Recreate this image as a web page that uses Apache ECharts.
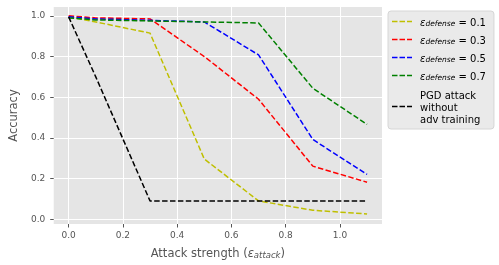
<!DOCTYPE html>
<html>
<head>
<meta charset="utf-8">
<script src="https://cdn.jsdelivr.net/npm/echarts@6/dist/echarts.min.js"></script>
<style>html,body{margin:0;padding:0;background:#fff;}#c{width:499px;height:265px;}</style>
</head>
<body>
<div id="c"></div>
<script>
const attackEps = [0, 0.1, 0.3, 0.5, 0.7, 0.9, 1.1];
const accDef01 = [0.995, 0.97, 0.915, 0.296, 0.09, 0.044, 0.026];
const accDef03 = [1.0, 0.99, 0.985, 0.80, 0.59, 0.261, 0.182];
const accDef05 = [0.995, 0.985, 0.978, 0.97, 0.808, 0.392, 0.22];
const accDef07 = [0.99, 0.98, 0.975, 0.97, 0.965, 0.644, 0.466];
const accNoAdv = [0.995, 0.70, 0.09, 0.09, 0.09, 0.09, 0.09];
const xTicks = [0, 0.2, 0.4, 0.6, 0.8, 1.0];
const yTicks = [0, 0.2, 0.4, 0.6, 0.8, 1.0];
const seriesNames = ['def0.1', 'def0.3', 'def0.5', 'def0.7', 'pgd'];
const legendTexts = {
  'def0.1': '{e|ε}{s|defense}{t| = 0.1}',
  'def0.3': '{e|ε}{s|defense}{t| = 0.3}',
  'def0.5': '{e|ε}{s|defense}{t| = 0.5}',
  'def0.7': '{e|ε}{s|defense}{t| = 0.7}',
  'pgd': '{m|PGD attack\nwithout\nadv training}'
};
const colors = ['#bfbf00', '#ff0000', '#0000ff', '#008000', '#000000'];
const allData = [accDef01, accDef03, accDef05, accDef07, accNoAdv];

const chart = echarts.init(document.getElementById('c'), null, {renderer: 'canvas'});
const FONT = 'DejaVu Sans';
const dashIcon = 'path://M0,0h5.5v1.5h-5.5z M7.5,0h5.5v1.5h-5.5z M15,0h5v1.5h-5z';
const series = allData.map((arr, i) => ({
  name: seriesNames[i],
  type: 'line',
  data: attackEps.map((x, j) => [x, arr[j]]),
  showSymbol: false,
  symbol: 'none',
  lineStyle: {color: colors[i], width: 1.5, type: [5.5, 2.4]},
  itemStyle: {color: colors[i]},
  z: 2 + i,
  animation: false
}));

chart.setOption({
  animation: false,
  backgroundColor: '#ffffff',
  grid: {left: 48, right: 117, top: 7, bottom: 41, show: true, backgroundColor: '#e5e5e5', borderWidth: 0},
  xAxis: {
    type: 'value', min: -0.055, max: 1.155, splitNumber: 5,
    axisLine: {show: true, onZero: false, lineStyle: {color: 'rgba(0,0,0,0)'}},
    axisTick: {show: true, length: 3.5, lineStyle: {color: '#555555', width: 1}, customValues: xTicks},
    axisLabel: {color: '#555555', fontFamily: FONT, fontSize: 9, margin: 7, customValues: xTicks,
      formatter: v => v.toFixed(1)},
    splitLine: {show: true, lineStyle: {color: '#ffffff', width: 1}},
    name: '{n|Attack strength (}{e|ε}{s|attack}{n|)}',
    nameLocation: 'middle', nameGap: 22,
    nameTextStyle: {
      rich: {
        n: {fontFamily: FONT, fontSize: 11.5, color: '#555555', verticalAlign: 'bottom', lineHeight: 14},
        e: {fontFamily: FONT, fontSize: 11.5, fontStyle: 'italic', color: '#555555', verticalAlign: 'bottom', lineHeight: 14},
        s: {fontFamily: FONT, fontSize: 8.5, fontStyle: 'italic', color: '#555555', verticalAlign: 'bottom', lineHeight: 14, padding: [6, 0, 0, 0]}
      }
    }
  },
  yAxis: {
    type: 'value', min: -0.0235, max: 1.0435, splitNumber: 5,
    axisLine: {show: true, onZero: false, lineStyle: {color: 'rgba(0,0,0,0)'}},
    axisTick: {show: true, length: 3.5, lineStyle: {color: '#555555', width: 1}, customValues: yTicks},
    axisLabel: {color: '#555555', fontFamily: FONT, fontSize: 9, margin: 8.5, customValues: yTicks,
      formatter: v => v.toFixed(1)},
    splitLine: {show: true, lineStyle: {color: '#ffffff', width: 1}},
    name: 'Accuracy', nameLocation: 'middle', nameGap: 31,
    nameTextStyle: {fontFamily: FONT, fontSize: 11.5, color: '#555555'}
  },
  legend: {
    orient: 'vertical', left: 388, top: 11,
    width: 100,
    backgroundColor: '#eaeaea', borderColor: '#d6d6d6', borderWidth: 1, borderRadius: 3,
    padding: [5, 8, 4, 4],
    itemWidth: 20, itemHeight: 2, itemGap: 6,
    icon: dashIcon,
    data: seriesNames,
    formatter: name => legendTexts[name],
    textStyle: {
      fontFamily: FONT, fontSize: 10, color: '#000000',
      rich: {
        e: {fontFamily: FONT, fontSize: 10, fontStyle: 'italic', color: '#000', verticalAlign: 'bottom', lineHeight: 13, padding: [0, 0, 0, 3]},
        s: {fontFamily: FONT, fontSize: 7.5, fontStyle: 'italic', color: '#000', verticalAlign: 'bottom', lineHeight: 13, padding: [4, 0, 0, 0]},
        t: {fontFamily: FONT, fontSize: 10, color: '#000', verticalAlign: 'bottom', lineHeight: 13},
        m: {fontFamily: FONT, fontSize: 10, color: '#000', lineHeight: 12, padding: [3, 0, 0, 3]}
      }
    }
  },
  series: series
});
</script>
</body>
</html>
